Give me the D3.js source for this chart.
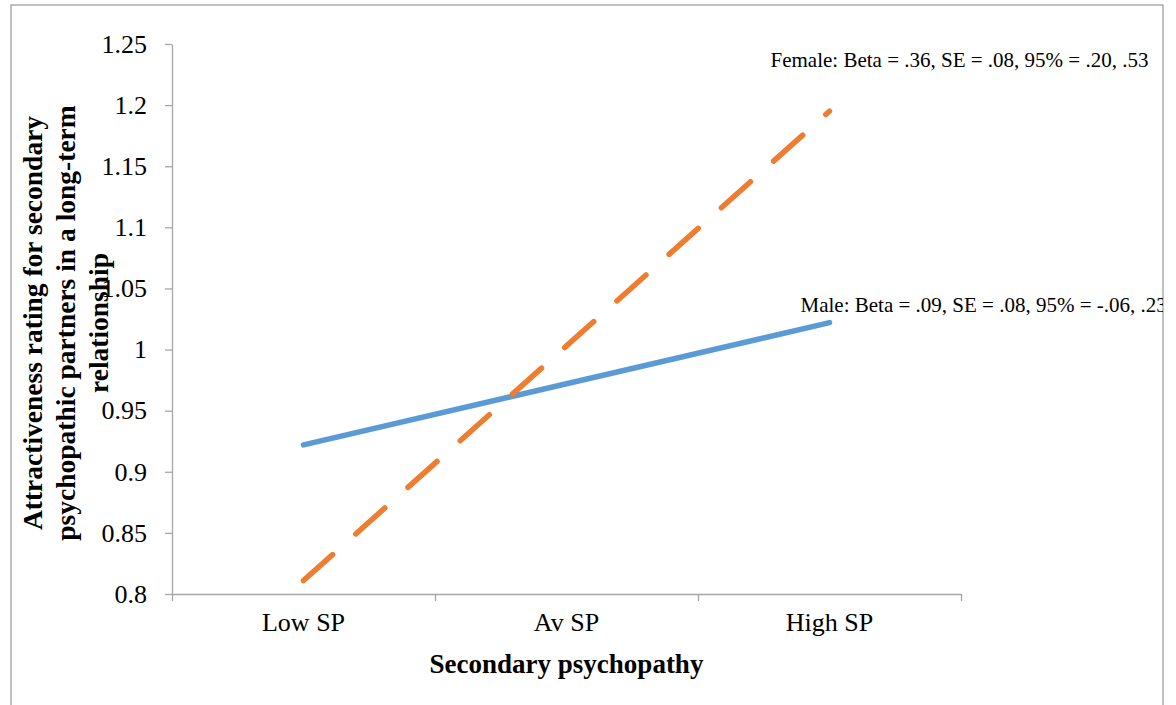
<!DOCTYPE html>
<html lang="en">
<head>
    <meta charset="UTF-8">
    <title>Secondary psychopathy interaction</title>
    <script src="https://cdnjs.cloudflare.com/ajax/libs/d3/7.8.5/d3.min.js"></script>
    <style>
        body {
            margin: 0;
            background-color: white;
        }

        svg text {
            font-family: "Liberation Serif", "Times New Roman", serif;
            fill: black;
        }

        .axis path, .axis line {
            stroke: #a6a6a6;
            stroke-width: 1.3;
        }

        .axis text {
            font-size: 26px;
        }
    </style>
</head>
<body>
<div id="chart"></div>
<script type="text/javascript">
    const categories = ['Low SP', 'Av SP', 'High SP'];
    const maleValues = [0.922, 0.972, 1.022];
    const femaleValues = [0.811, 1.003, 1.195];
    const yTicks = [0.8, 0.85, 0.9, 0.95, 1, 1.05, 1.1, 1.15, 1.2, 1.25];
    const femaleLabel = 'Female: Beta = .36, SE = .08, 95% = .20, .53';
    const maleLabel = 'Male: Beta = .09, SE = .08, 95% = -.06, .23';
    const yTitle = ['Attractiveness rating for secondary', 'psychopathic partners in a long-term', 'relationship'];
    const xTitle = 'Secondary psychopathy';

    function onLoad() {
        const width = 1176;
        const height = 705;
        const plot = {left: 172, right: 961, top: 44, bottom: 594};

        const svg = d3.select('#chart')
            .append('svg')
            .attr('width', width)
            .attr('height', height);

        svg.append('clipPath').attr('id', 'frame-clip')
            .append('rect')
            .attr('x', 11).attr('y', 5)
            .attr('width', 1152).attr('height', 720);

        // outer chart frame
        svg.append('rect')
            .attr('x', 11).attr('y', 5)
            .attr('width', 1152).attr('height', 720)
            .attr('fill', 'none')
            .attr('stroke', '#a0a0a0')
            .attr('stroke-width', 1.3);

        const scaleY = d3.scaleLinear()
            .domain([0.8, 1.25])
            .range([plot.bottom, plot.top]);

        const scaleX = d3.scaleBand()
            .domain(categories)
            .range([plot.left, plot.right]);

        const boundary = d3.scaleLinear()
            .domain([0, categories.length])
            .range([plot.left, plot.right]);

        const yAxis = d3.axisLeft(scaleY)
            .tickValues(yTicks)
            .tickFormat(d => d3.format('')(+d.toFixed(2)))
            .tickSizeInner(7)
            .tickSizeOuter(0)
            .tickPadding(18);
        svg.append('g').attr('class', 'axis').attr('id', 'y-axis')
            .attr('transform', `translate(${plot.left}, 0)`)
            .call(yAxis);

        const xTicks = d3.axisBottom(boundary)
            .tickValues(d3.range(categories.length + 1))
            .tickFormat('')
            .tickSizeInner(7)
            .tickSizeOuter(0);
        svg.append('g').attr('class', 'axis').attr('id', 'x-axis')
            .attr('transform', `translate(0, ${plot.bottom})`)
            .call(xTicks);

        const xLabels = d3.axisBottom(scaleX).tickSize(0).tickPadding(19);
        svg.append('g').attr('class', 'axis').attr('id', 'x-labels')
            .attr('transform', `translate(0, ${plot.bottom})`)
            .call(xLabels)
            .call(g => g.select('.domain').remove());

        const line = d3.line()
            .x((d, i) => scaleX(categories[i]) + scaleX.bandwidth() / 2)
            .y(d => scaleY(d));

        svg.append('path')
            .datum(maleValues)
            .attr('d', line)
            .attr('fill', 'none')
            .attr('stroke', '#5b9bd5')
            .attr('stroke-width', 5.5)
            .attr('stroke-linecap', 'round');

        svg.append('path')
            .datum(femaleValues)
            .attr('d', line)
            .attr('fill', 'none')
            .attr('stroke', '#ed7d31')
            .attr('stroke-width', 5.5)
            .attr('stroke-linecap', 'round')
            .attr('stroke-dasharray', '39,31');

        // data labels next to the High SP points
        const last = categories.length - 1;
        const xHigh = scaleX(categories[last]) + scaleX.bandwidth() / 2;
        const labels = svg.append('g').attr('clip-path', 'url(#frame-clip)');
        labels.append('text').text(femaleLabel)
            .attr('x', xHigh - 59)
            .attr('y', scaleY(femaleValues[last]) - 44)
            .style('font-size', '21px');
        labels.append('text').text(maleLabel)
            .attr('x', xHigh - 29)
            .attr('y', scaleY(maleValues[last]) - 11)
            .style('font-size', '21px');

        svg.append('text').text(xTitle)
            .attr('x', (plot.left + plot.right) / 2)
            .attr('y', 673)
            .attr('text-anchor', 'middle')
            .style('font-size', '27px')
            .style('font-weight', 'bold');

        const yt = svg.append('text')
            .attr('transform', 'translate(75, 323) rotate(-90)')
            .attr('text-anchor', 'middle')
            .style('font-size', '27.5px')
            .style('font-weight', 'bold');
        yTitle.forEach((t, i) => {
            yt.append('tspan')
                .attr('x', 0)
                .attr('y', (i - 1) * 33)
                .text(t);
        });
    }

    document.addEventListener('DOMContentLoaded', onLoad);
</script>
</body>
</html>
